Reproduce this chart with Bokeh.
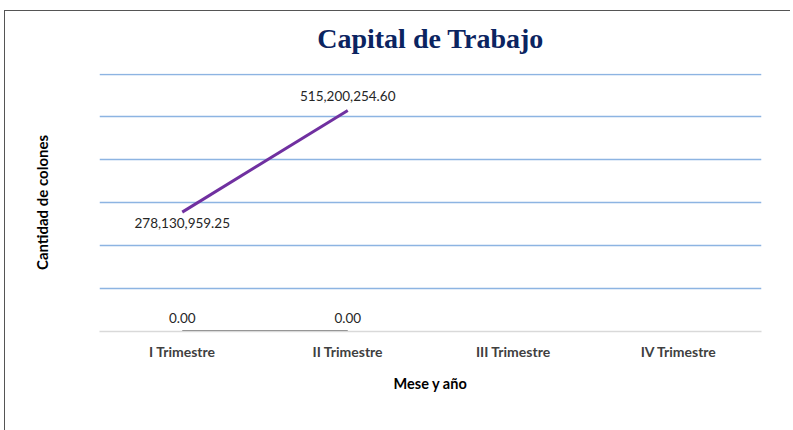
from bokeh.plotting import figure
from bokeh.models import (ColumnDataSource, FactorRange, Range1d, LabelSet, Legend,
                          LegendItem, FixedTicker, Title)
from bokeh.embed import file_html
from bokeh.resources import INLINE
from bokeh.core.properties import value

categories = ["I Trimestre", "II Trimestre", "III Trimestre", "IV Trimestre"]
series_names = ["Año 2018", "Año 2019"]
quarters_2018 = ["I Trimestre", "II Trimestre"]
values_2018 = [0.0, 0.0]
labels_2018 = ["0.00", "0.00"]
quarters_2019 = ["I Trimestre", "II Trimestre"]
values_2019 = [278130959.25, 515200254.60]
labels_2019 = ["278,130,959.25", "515,200,254.60"]
grid_values = [100e6, 200e6, 300e6, 400e6, 500e6, 600e6]
y_max = 600e6

LABEL_FONT = "Lato"
FRAME_LINE = "linear-gradient(#555555, #555555)"

p = figure(frame_width=662, frame_height=258,
           x_range=FactorRange(*categories, range_padding=0),
           y_range=Range1d(0, y_max * 1.002),
           output_backend="svg", toolbar_location=None,
           min_border_left=99, min_border_right=29,
           min_border_top=73, min_border_bottom=96,
           styles={"background": f"{FRAME_LINE} 4px 10px / 100% 1px no-repeat, "
                                 f"{FRAME_LINE} 4px 10px / 1px 100% no-repeat, white"})
p.outline_line_color = None
p.background_fill_color = "white"
p.border_fill_alpha = 0

title = Title(text="Capital de Trabajo", align="center",
              text_font="Liberation Serif", text_font_size="28px",
              text_font_style="bold", text_color="#0B2461", standoff=39)
p.add_layout(title, "above")

# grid
p.xgrid.grid_line_color = None
p.ygrid.ticker = FixedTicker(ticks=grid_values)
p.ygrid.grid_line_color = "#8DB4E2"
p.ygrid.grid_line_width = 1.3

# y axis: only the title
p.yaxis.ticker = FixedTicker(ticks=[])
p.yaxis.axis_label = "Cantidad de colones"
p.yaxis.axis_label_text_font = LABEL_FONT
p.yaxis.axis_label_text_font_style = "bold"
p.yaxis.axis_label_text_font_size = "15px"
p.yaxis.axis_label_text_color = "#000000"
p.yaxis.axis_label_standoff = 49
p.yaxis.major_label_standoff = 0
p.yaxis.major_tick_line_color = None
p.yaxis.minor_tick_line_color = None
p.yaxis.axis_line_color = None

# x axis
p.xaxis.axis_line_color = "#D9D9D9"
p.xaxis.axis_line_width = 1.3
p.xaxis.major_tick_line_color = None
p.xaxis.major_tick_out = 0
p.xaxis.major_tick_in = 0
p.xaxis.major_label_standoff = 11
p.xaxis.major_label_text_font = LABEL_FONT
p.xaxis.major_label_text_font_style = "bold"
p.xaxis.major_label_text_font_size = "14px"
p.xaxis.major_label_text_color = "#404040"
p.xaxis.axis_label = "Mese y año"
p.xaxis.axis_label_text_font = LABEL_FONT
p.xaxis.axis_label_text_font_style = "bold"
p.xaxis.axis_label_text_font_size = "14.5px"
p.xaxis.axis_label_text_color = "#000000"
p.xaxis.axis_label_standoff = 12

src18 = ColumnDataSource(dict(x=quarters_2018, y=values_2018, t=labels_2018))
src19 = ColumnDataSource(dict(x=quarters_2019, y=values_2019, t=labels_2019))

r18 = p.line("x", "y", source=src18, line_color="#7F7F7F", line_width=3)
r19 = p.line("x", "y", source=src19, line_color="#7030A0", line_width=3)

lab_kw = dict(text_font=value(LABEL_FONT), text_font_size="13.5px", text_color="#262626",
              text_align="center", text_baseline="middle")
p.add_layout(LabelSet(x="x", y="y", text="t", y_offset=14, source=src18, **lab_kw))
src19_low = ColumnDataSource(dict(x=quarters_2019[:1], y=values_2019[:1], t=labels_2019[:1]))
src19_high = ColumnDataSource(dict(x=quarters_2019[1:], y=values_2019[1:], t=labels_2019[1:]))
p.add_layout(LabelSet(x="x", y="y", text="t", y_offset=-11, source=src19_low, **lab_kw))
p.add_layout(LabelSet(x="x", y="y", text="t", y_offset=14, source=src19_high, **lab_kw))

legend = Legend(items=[LegendItem(label=series_names[0], renderers=[r18]),
                       LegendItem(label=series_names[1], renderers=[r19])],
                orientation="horizontal", location=(211, 0),
                label_text_font=LABEL_FONT, label_text_font_style="bold",
                label_text_font_size="13.5px", label_text_color="#000000",
                glyph_width=32, glyph_height=14, label_standoff=3, spacing=11,
                label_height=16, padding=1, margin=3, border_line_color=None,
                background_fill_alpha=0)
p.add_layout(legend, "below")

open("out.html", "w").write(file_html(p, INLINE))
